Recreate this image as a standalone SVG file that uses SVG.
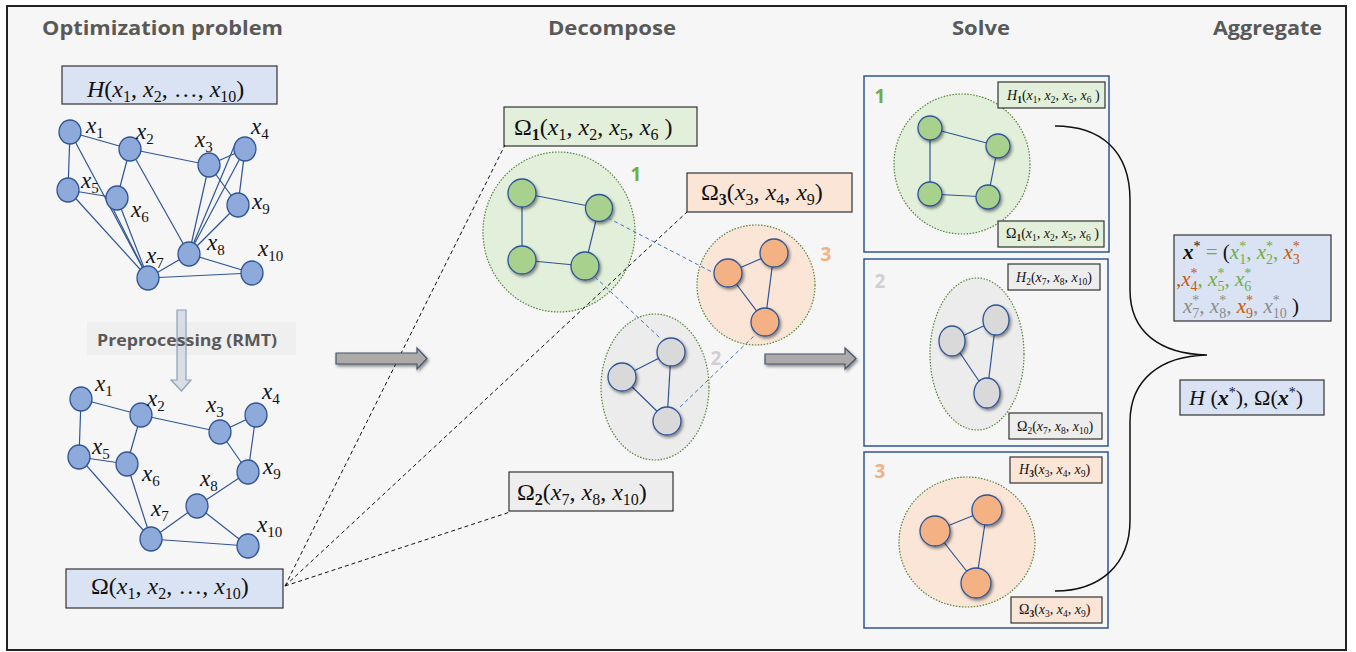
<svg xmlns="http://www.w3.org/2000/svg" width="1356" height="652" viewBox="0 0 1356 652">
<style>
.t{font-family:"Open Sans","Liberation Sans",sans-serif;font-weight:bold;font-size:20px;fill:#595959}
.m{font-family:"Liberation Serif",serif;font-size:24px;fill:#111}
.i{font-style:italic}
.s{font-size:16px;font-style:normal}
.nl{font-family:"Liberation Serif",serif;font-size:23px;font-style:italic;fill:#111}
.nl .s{font-size:15px}
.sm{font-family:"Liberation Serif",serif;font-size:14px;fill:#111}
.ss{font-size:9.5px;font-style:normal}
.e{stroke:#2f5597;stroke-width:1.2;fill:none}
.n{fill:#8eaadb;stroke:#2f5597;stroke-width:1.3}
.g{fill:#a9d18e;stroke:#2f5597;stroke-width:1.3}
.o{fill:#f4b183;stroke:#2f5597;stroke-width:1.3}
.y{fill:#d9d9d9;stroke:#2f5597;stroke-width:1.3}
.cl{stroke:#548235;stroke-width:1.2;stroke-dasharray:1.5 1.5}
.bx{stroke:#333;stroke-width:1.2}
.sb{fill:#f6f6f6;stroke:#2f5597;stroke-width:1.5}
.dash{stroke:#111;stroke-width:1;stroke-dasharray:4 3;fill:none}
.bd{stroke:#4472c4;stroke-width:1;stroke-dasharray:4 3;fill:none}
.ba{fill:#aeaaaa;stroke:#44546a;stroke-width:1.2}
.cn{font-family:"Open Sans","Liberation Sans",sans-serif;font-weight:bold;font-size:19px;text-anchor:middle}
.ag{font-family:"Liberation Serif",serif;font-size:21px;fill:#111}
.st{font-size:14px;font-style:normal}
.gr{fill:#70ad47}
.or{fill:#c55a11}
.gy{fill:#8c8c8c}
</style>
<defs>
<filter id="sh" x="-50%" y="-50%" width="200%" height="200%">
<feDropShadow dx="1.5" dy="2" stdDeviation="1.8" flood-color="#000" flood-opacity="0.45"/>
</filter>
</defs>
<rect x="0" y="0" width="1356" height="652" fill="#ffffff"/>
<rect x="7" y="6" width="1339" height="644" fill="#f6f6f6" stroke="#222" stroke-width="2"/>

<!-- titles -->
<text class="t" x="42" y="35" textLength="241" lengthAdjust="spacingAndGlyphs">Optimization problem</text>
<text class="t" x="548" y="35" textLength="128" lengthAdjust="spacingAndGlyphs">Decompose</text>
<text class="t" x="952" y="35" textLength="58" lengthAdjust="spacingAndGlyphs">Solve</text>
<text class="t" x="1213" y="35" textLength="109" lengthAdjust="spacingAndGlyphs">Aggregate</text>

<!-- top graph -->
<g id="graph-original">
<rect class="bx" x="62" y="66" width="215" height="38" fill="#dae3f3"/>
<text class="m" x="87" y="97"><tspan class="i">H</tspan>(<tspan class="i">x</tspan><tspan class="s" dy="5">1</tspan><tspan dy="-5">, </tspan><tspan class="i">x</tspan><tspan class="s" dy="5">2</tspan><tspan dy="-5">, …, </tspan><tspan class="i">x</tspan><tspan class="s" dy="5">10</tspan><tspan dy="-5">)</tspan></text>
<g>
<line class="e" x1="70" y1="132" x2="130" y2="149"/>
<line class="e" x1="70" y1="132" x2="68" y2="190"/>
<line class="e" x1="70" y1="132" x2="148" y2="278"/>
<line class="e" x1="68" y1="190" x2="117" y2="198"/>
<line class="e" x1="68" y1="190" x2="148" y2="278"/>
<line class="e" x1="106" y1="195" x2="148" y2="278"/>
<line class="e" x1="117" y1="198" x2="148" y2="278"/>
<line class="e" x1="130" y1="149" x2="117" y2="198"/>
<line class="e" x1="130" y1="149" x2="209" y2="165"/>
<line class="e" x1="130" y1="149" x2="189" y2="254"/>
<line class="e" x1="209" y1="165" x2="245" y2="149"/>
<line class="e" x1="209" y1="165" x2="238" y2="205"/>
<line class="e" x1="209" y1="165" x2="189" y2="254"/>
<line class="e" x1="236" y1="142" x2="189" y2="254"/>
<line class="e" x1="245" y1="149" x2="189" y2="254"/>
<line class="e" x1="245" y1="149" x2="238" y2="205"/>
<line class="e" x1="238" y1="205" x2="189" y2="254"/>
<line class="e" x1="148" y1="278" x2="189" y2="254"/>
<line class="e" x1="189" y1="254" x2="252" y2="273"/>
<line class="e" x1="148" y1="278" x2="252" y2="273"/>
</g>
<g id="n-top">
<ellipse class="n" cx="70" cy="132" rx="11" ry="12"/>
<ellipse class="n" cx="130" cy="149" rx="11" ry="12"/>
<ellipse class="n" cx="209" cy="165" rx="11" ry="12"/>
<ellipse class="n" cx="245" cy="149" rx="11" ry="12"/>
<ellipse class="n" cx="68" cy="190" rx="11" ry="12"/>
<ellipse class="n" cx="117" cy="198" rx="11" ry="12"/>
<ellipse class="n" cx="238" cy="205" rx="11" ry="12"/>
<ellipse class="n" cx="189" cy="254" rx="11" ry="12"/>
<ellipse class="n" cx="148" cy="278" rx="11" ry="12"/>
<ellipse class="n" cx="252" cy="273" rx="11" ry="12"/>
</g>
<text class="nl" x="86" y="133">x<tspan class="s" dy="5">1</tspan></text>
<text class="nl" x="136" y="139">x<tspan class="s" dy="5">2</tspan></text>
<text class="nl" x="195" y="147">x<tspan class="s" dy="5">3</tspan></text>
<text class="nl" x="251" y="134">x<tspan class="s" dy="5">4</tspan></text>
<text class="nl" x="81" y="188">x<tspan class="s" dy="5">5</tspan></text>
<text class="nl" x="131" y="217">x<tspan class="s" dy="5">6</tspan></text>
<text class="nl" x="252" y="209">x<tspan class="s" dy="5">9</tspan></text>
<text class="nl" x="207" y="250">x<tspan class="s" dy="5">8</tspan></text>
<text class="nl" x="146" y="263">x<tspan class="s" dy="5">7</tspan></text>
<text class="nl" x="258" y="256">x<tspan class="s" dy="5">10</tspan></text>
</g>

<!-- preprocessing -->
<g id="preprocessing">
<rect x="87" y="322" width="209" height="33" fill="#ececec" opacity="0.7"/>
<polygon points="177,310 186,310 186,380 191,380 181.5,391 171,380 177,380" fill="#d6dce5" stroke="#8497b0" stroke-width="1.2" opacity="0.9"/>
<text class="t" x="97" y="346" textLength="180" lengthAdjust="spacingAndGlyphs" style="font-size:16px">Preprocessing (RMT)</text>
</g>

<!-- bottom graph -->
<g id="graph-reduced">
<g>
<line class="e" x1="81" y1="399" x2="141" y2="415" stroke-width="2"/>
<line class="e" x1="81" y1="399" x2="79" y2="457" stroke-width="2"/>
<line class="e" x1="79" y1="457" x2="127" y2="464"/>
<line class="e" x1="141" y1="415" x2="127" y2="464"/>
<line class="e" x1="141" y1="415" x2="220" y2="432"/>
<line class="e" x1="220" y1="432" x2="256" y2="415"/>
<line class="e" x1="220" y1="432" x2="248" y2="472" stroke-width="2"/>
<line class="e" x1="256" y1="415" x2="248" y2="472"/>
<line class="e" x1="79" y1="457" x2="151" y2="539"/>
<line class="e" x1="127" y1="464" x2="151" y2="539"/>
<line class="e" x1="151" y1="539" x2="197" y2="506" stroke-width="2"/>
<line class="e" x1="197" y1="506" x2="248" y2="472"/>
<line class="e" x1="197" y1="506" x2="248" y2="546" stroke-width="1.6"/>
<line class="e" x1="151" y1="539" x2="248" y2="546" stroke-width="1.6"/>
</g>
<g id="n-bottom">
<ellipse class="n" cx="81" cy="399" rx="11" ry="12"/>
<ellipse class="n" cx="141" cy="415" rx="11" ry="12"/>
<ellipse class="n" cx="220" cy="432" rx="11" ry="12"/>
<ellipse class="n" cx="256" cy="415" rx="11" ry="12"/>
<ellipse class="n" cx="79" cy="457" rx="11" ry="12"/>
<ellipse class="n" cx="127" cy="464" rx="11" ry="12"/>
<ellipse class="n" cx="248" cy="472" rx="11" ry="12"/>
<ellipse class="n" cx="197" cy="506" rx="11" ry="12"/>
<ellipse class="n" cx="151" cy="539" rx="11" ry="12"/>
<ellipse class="n" cx="248" cy="546" rx="11" ry="12"/>
</g>
<text class="nl" x="95" y="391">x<tspan class="s" dy="5">1</tspan></text>
<text class="nl" x="147" y="406">x<tspan class="s" dy="5">2</tspan></text>
<text class="nl" x="206" y="412">x<tspan class="s" dy="5">3</tspan></text>
<text class="nl" x="262" y="399">x<tspan class="s" dy="5">4</tspan></text>
<text class="nl" x="92" y="454">x<tspan class="s" dy="5">5</tspan></text>
<text class="nl" x="142" y="481">x<tspan class="s" dy="5">6</tspan></text>
<text class="nl" x="263" y="474">x<tspan class="s" dy="5">9</tspan></text>
<text class="nl" x="200" y="486">x<tspan class="s" dy="5">8</tspan></text>
<text class="nl" x="151" y="516">x<tspan class="s" dy="5">7</tspan></text>
<text class="nl" x="257" y="532">x<tspan class="s" dy="5">10</tspan></text>
<rect class="bx" x="66" y="569" width="217" height="39" fill="#dae3f3"/>
<text class="m" x="91" y="594">Ω(<tspan class="i">x</tspan><tspan class="s" dy="5">1</tspan><tspan dy="-5">, </tspan><tspan class="i">x</tspan><tspan class="s" dy="5">2</tspan><tspan dy="-5">, …, </tspan><tspan class="i">x</tspan><tspan class="s" dy="5">10</tspan><tspan dy="-5">)</tspan></text>
</g>

<!-- decompose clusters -->
<g id="label-omega1">
<rect class="bx" x="504" y="107" width="193" height="39" fill="#e2efda"/>
<text class="m" x="514" y="135">Ω<tspan class="s" dy="5" font-weight="bold">1</tspan><tspan dy="-5">(</tspan><tspan class="i">x</tspan><tspan class="s" dy="5">1</tspan><tspan dy="-5">, </tspan><tspan class="i">x</tspan><tspan class="s" dy="5">2</tspan><tspan dy="-5">, </tspan><tspan class="i">x</tspan><tspan class="s" dy="5">5</tspan><tspan dy="-5">, </tspan><tspan class="i">x</tspan><tspan class="s" dy="5">6</tspan><tspan dy="-5"> )</tspan></text>
</g>
<g id="label-omega3">
<rect class="bx" x="687" y="173" width="165" height="39" fill="#fbe5d6"/>
<text class="m" x="701" y="200">Ω<tspan class="s" dy="5" font-weight="bold">3</tspan><tspan dy="-5">(</tspan><tspan class="i">x</tspan><tspan class="s" dy="5">3</tspan><tspan dy="-5">, </tspan><tspan class="i">x</tspan><tspan class="s" dy="5">4</tspan><tspan dy="-5">, </tspan><tspan class="i">x</tspan><tspan class="s" dy="5">9</tspan><tspan dy="-5">)</tspan></text>
</g>
<g id="label-omega2">
<rect class="bx" x="509" y="472" width="164" height="39" fill="#ededed"/>
<text class="m" x="517" y="500">Ω<tspan class="s" dy="5" font-weight="bold">2</tspan><tspan dy="-5">(</tspan><tspan class="i">x</tspan><tspan class="s" dy="5">7</tspan><tspan dy="-5">, </tspan><tspan class="i">x</tspan><tspan class="s" dy="5">8</tspan><tspan dy="-5">, </tspan><tspan class="i">x</tspan><tspan class="s" dy="5">10</tspan><tspan dy="-5">)</tspan></text>
</g>

<g id="cluster1">
<ellipse class="cl" cx="559" cy="232" rx="76" ry="80" fill="#e2efda"/>
<line class="e" x1="522" y1="193" x2="599" y2="208"/>
<line class="e" x1="522" y1="193" x2="522" y2="260"/>
<line class="e" x1="522" y1="260" x2="585" y2="266"/>
<line class="e" x1="599" y1="208" x2="585" y2="266"/>
<g filter="url(#sh)">
<circle class="g" cx="522" cy="193" r="14"/>
<circle class="g" cx="599" cy="208" r="13.5"/>
<circle class="g" cx="522" cy="260" r="14"/>
<circle class="g" cx="585" cy="266" r="14"/>
</g>
<text class="cn" x="636" y="181" fill="#70ad47">1</text>
</g>
<g id="cluster3">
<ellipse class="cl" cx="756" cy="285" rx="59" ry="60" fill="#fbe5d6"/>
<line class="e" x1="728" y1="273" x2="774" y2="253"/>
<line class="e" x1="728" y1="273" x2="765" y2="322"/>
<line class="e" x1="774" y1="253" x2="765" y2="322"/>
<g filter="url(#sh)">
<circle class="o" cx="728" cy="273" r="14"/>
<circle class="o" cx="774" cy="253" r="14"/>
<circle class="o" cx="765" cy="322" r="14"/>
</g>
<text class="cn" x="826" y="261" fill="#f4b183">3</text>
</g>
<g id="cluster2">
<ellipse class="cl" cx="655" cy="387" rx="54" ry="73" fill="#ececec"/>
<line class="e" x1="671" y1="352" x2="622" y2="377"/>
<line class="e" x1="622" y1="377" x2="667" y2="421"/>
<line class="e" x1="671" y1="352" x2="667" y2="421"/>
<g filter="url(#sh)">
<circle class="y" cx="671" cy="352" r="14"/>
<circle class="y" cx="622" cy="377" r="14"/>
<circle class="y" cx="667" cy="421" r="14"/>
</g>
<text class="cn" x="716" y="365" fill="#d0d0d0">2</text>
</g>

<!-- solve boxes -->
<g id="solve1">
<rect class="sb" x="864" y="76" width="245" height="176"/>
<text class="cn" x="880" y="103" fill="#70ad47">1</text>
<ellipse class="cl" cx="962" cy="164" rx="68" ry="70" fill="#e2efda"/>
<line class="e" x1="930" y1="128" x2="998" y2="146"/>
<line class="e" x1="930" y1="128" x2="930" y2="194"/>
<line class="e" x1="930" y1="194" x2="988" y2="197"/>
<line class="e" x1="998" y1="146" x2="988" y2="197"/>
<g filter="url(#sh)">
<circle class="g" cx="930" cy="128" r="12"/>
<circle class="g" cx="998" cy="146" r="12"/>
<circle class="g" cx="930" cy="194" r="12"/>
<circle class="g" cx="988" cy="197" r="12"/>
</g>
<rect class="bx" x="998" y="82" width="107" height="26" fill="#e2efda"/>
<text class="sm" x="1007" y="100"><tspan class="i">H</tspan><tspan class="ss" dy="3" font-weight="bold">1</tspan><tspan dy="-3">(</tspan><tspan class="i">x</tspan><tspan class="ss" dy="3">1</tspan><tspan dy="-3">, </tspan><tspan class="i">x</tspan><tspan class="ss" dy="3">2</tspan><tspan dy="-3">, </tspan><tspan class="i">x</tspan><tspan class="ss" dy="3">5</tspan><tspan dy="-3">, </tspan><tspan class="i">x</tspan><tspan class="ss" dy="3">6</tspan><tspan dy="-3"> )</tspan></text>
<rect class="bx" x="998" y="221" width="106" height="26" fill="#e2efda"/>
<text class="sm" x="1006" y="238">Ω<tspan class="ss" dy="3" font-weight="bold">1</tspan><tspan dy="-3">(</tspan><tspan class="i">x</tspan><tspan class="ss" dy="3">1</tspan><tspan dy="-3">, </tspan><tspan class="i">x</tspan><tspan class="ss" dy="3">2</tspan><tspan dy="-3">, </tspan><tspan class="i">x</tspan><tspan class="ss" dy="3">5</tspan><tspan dy="-3">, </tspan><tspan class="i">x</tspan><tspan class="ss" dy="3">6</tspan><tspan dy="-3"> )</tspan></text>
</g>
<g id="solve2">
<rect class="sb" x="864" y="259" width="244" height="187"/>
<text class="cn" x="880" y="288" fill="#d0d0d0">2</text>
<ellipse class="cl" cx="977" cy="354" rx="47" ry="76" fill="#ececec"/>
<line class="e" x1="996" y1="320" x2="952" y2="341"/>
<line class="e" x1="952" y1="341" x2="987" y2="393"/>
<line class="e" x1="996" y1="320" x2="987" y2="393"/>
<g filter="url(#sh)">
<ellipse class="y" cx="996" cy="320" rx="13" ry="15"/>
<ellipse class="y" cx="952" cy="341" rx="13" ry="15"/>
<ellipse class="y" cx="987" cy="393" rx="13" ry="15"/>
</g>
<rect class="bx" x="1008" y="264" width="92" height="26" fill="#ededed"/>
<text class="sm" x="1016" y="282"><tspan class="i">H</tspan><tspan class="ss" dy="3">2</tspan><tspan dy="-3">(</tspan><tspan class="i">x</tspan><tspan class="ss" dy="3">7</tspan><tspan dy="-3">, </tspan><tspan class="i">x</tspan><tspan class="ss" dy="3">8</tspan><tspan dy="-3">, </tspan><tspan class="i">x</tspan><tspan class="ss" dy="3">10</tspan><tspan dy="-3">)</tspan></text>
<rect class="bx" x="1009" y="413" width="93" height="26" fill="#ededed"/>
<text class="sm" x="1017" y="431">Ω<tspan class="ss" dy="3">2</tspan><tspan dy="-3">(</tspan><tspan class="i">x</tspan><tspan class="ss" dy="3">7</tspan><tspan dy="-3">, </tspan><tspan class="i">x</tspan><tspan class="ss" dy="3">8</tspan><tspan dy="-3">, </tspan><tspan class="i">x</tspan><tspan class="ss" dy="3">10</tspan><tspan dy="-3">)</tspan></text>
</g>
<g id="solve3">
<rect class="sb" x="864" y="452" width="244" height="176"/>
<text class="cn" x="880" y="478" fill="#f4b183">3</text>
<ellipse class="cl" cx="967" cy="542" rx="68" ry="65" fill="#fbe5d6"/>
<line class="e" x1="935" y1="531" x2="987" y2="510"/>
<line class="e" x1="935" y1="531" x2="976" y2="583"/>
<line class="e" x1="987" y1="510" x2="976" y2="583"/>
<g filter="url(#sh)">
<circle class="o" cx="935" cy="531" r="15"/>
<circle class="o" cx="987" cy="510" r="15"/>
<circle class="o" cx="976" cy="583" r="15"/>
</g>
<rect class="bx" x="1010" y="457" width="92" height="26" fill="#fbe5d6"/>
<text class="sm" x="1019" y="474"><tspan class="i">H</tspan><tspan class="ss" dy="3" font-weight="bold">3</tspan><tspan dy="-3">(</tspan><tspan class="i">x</tspan><tspan class="ss" dy="3">3</tspan><tspan dy="-3">, </tspan><tspan class="i">x</tspan><tspan class="ss" dy="3">4</tspan><tspan dy="-3">, </tspan><tspan class="i">x</tspan><tspan class="ss" dy="3">9</tspan><tspan dy="-3">)</tspan></text>
<rect class="bx" x="1011" y="597" width="91" height="26" fill="#fbe5d6"/>
<text class="sm" x="1019" y="614">Ω<tspan class="ss" dy="3" font-weight="bold">3</tspan><tspan dy="-3">(</tspan><tspan class="i">x</tspan><tspan class="ss" dy="3">3</tspan><tspan dy="-3">, </tspan><tspan class="i">x</tspan><tspan class="ss" dy="3">4</tspan><tspan dy="-3">, </tspan><tspan class="i">x</tspan><tspan class="ss" dy="3">9</tspan><tspan dy="-3">)</tspan></text>
</g>

<!-- aggregate -->
<g id="aggregate-solution">
<rect class="bx" x="1174" y="235" width="157" height="86" fill="#dae3f3"/>
<text class="ag" x="1183" y="259"><tspan font-weight="bold" class="i">x</tspan><tspan class="st" dy="-8">*</tspan><tspan dy="8" class="gr"> =  </tspan><tspan>(</tspan><tspan class="i gr">x</tspan><tspan class="st gr" dy="-8">*</tspan><tspan class="st gr" dx="-7" dy="13">1</tspan><tspan dy="-5" class="gr">, </tspan><tspan class="i gr">x</tspan><tspan class="st gr" dy="-8">*</tspan><tspan class="st gr" dx="-7" dy="13">2</tspan><tspan dy="-5" class="gr">, </tspan><tspan class="i or">x</tspan><tspan class="st or" dy="-8">*</tspan><tspan class="st or" dx="-7" dy="13">3</tspan></text>
<text class="ag" x="1176" y="286"><tspan class="or">,</tspan><tspan class="i or">x</tspan><tspan class="st or" dy="-8">*</tspan><tspan class="st or" dx="-7" dy="13">4</tspan><tspan dy="-5" class="gr">, </tspan><tspan class="i gr">x</tspan><tspan class="st gr" dy="-8">*</tspan><tspan class="st gr" dx="-7" dy="13">5</tspan><tspan dy="-5" class="gr">, </tspan><tspan class="i gr">x</tspan><tspan class="st gr" dy="-8">*</tspan><tspan class="st gr" dx="-7" dy="13">6</tspan></text>
<text class="ag" x="1183" y="313"><tspan class="i gy">x</tspan><tspan class="st gy" dy="-8">*</tspan><tspan class="st gy" dx="-7" dy="13">7</tspan><tspan dy="-5" class="gy">, </tspan><tspan class="i gy">x</tspan><tspan class="st gy" dy="-8">*</tspan><tspan class="st gy" dx="-7" dy="13">8</tspan><tspan dy="-5" class="gy">, </tspan><tspan class="i or">x</tspan><tspan class="st or" dy="-8">*</tspan><tspan class="st or" dx="-7" dy="13">9</tspan><tspan dy="-5" class="gy">, </tspan><tspan class="i gy">x</tspan><tspan class="st gy" dy="-8">*</tspan><tspan class="st gy" dx="-7" dy="13">10</tspan><tspan dy="-5"> )</tspan></text>
</g>
<g id="aggregate-value">
<rect class="bx" x="1180" y="380" width="144" height="35" fill="#dae3f3"/>
<text class="ag" x="1189" y="405" style="font-size:22px"><tspan class="i">H</tspan> (<tspan class="i" font-weight="bold">x</tspan><tspan class="st" dy="-8">*</tspan><tspan dy="8">), Ω(</tspan><tspan class="i" font-weight="bold">x</tspan><tspan class="st" dy="-8">*</tspan><tspan dy="8">)</tspan></text>
</g>

<!-- connectors -->
<g id="connectors">
<path class="dash" d="M285,586 L505,145"/>
<path class="dash" d="M285,586 L687,212"/>
<path class="dash" d="M285,586 L510,512"/>
<path class="bd" d="M608,218 L712,272"/>
<path class="bd" d="M595,277 L660,338"/>
<path class="bd" d="M680,407 L755,335"/>
<g filter="url(#sh)">
<polygon class="ba" points="336,353 417,353 417,348 427,358.5 417,369 417,364 336,364"/>
<polygon class="ba" points="765,354 845,354 845,348 856,358.5 845,369 845,364 765,364"/>
</g>
<path d="M1055,126 C1100,126 1130,150 1130,200 L1130,290 C1130,332 1160,354 1207,355 C1160,356 1130,380 1130,422 L1130,520 C1130,565 1100,591 1055,591" fill="none" stroke="#111" stroke-width="1.5"/>
</g>
</svg>
